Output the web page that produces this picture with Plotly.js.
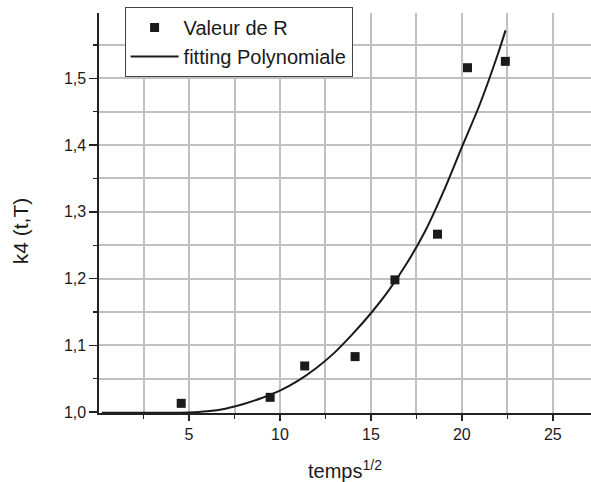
<!DOCTYPE html>
<html>
<head>
<meta charset="utf-8">
<script src="https://cdn.plot.ly/plotly-3.0.1.min.js"></script>
<style>
  html, body { margin: 0; padding: 0; background: #ffffff; }
  #chart { width: 591px; height: 482px; }
</style>
</head>
<body>
<div id="chart"></div>
<script>
// Measured points "Valeur de R" (x = temps^1/2, y = k4(t,T))
var pointsX = [4.57, 9.46, 11.36, 14.13, 16.32, 18.66, 20.31, 22.39];
var pointsY = [1.013, 1.022, 1.069, 1.083, 1.198, 1.2665, 1.516, 1.5255];

// Polynomial fit curve
var fitX = [0.2, 2, 4, 5, 6, 7, 8, 9, 10, 11, 12, 13, 14, 15, 16, 17, 18, 19, 20, 21, 22, 22.4];
var fitY = [0.999, 0.999, 0.999, 0.9993, 1.001, 1.005, 1.012, 1.021, 1.032, 1.047, 1.066, 1.089,
            1.117, 1.148, 1.183, 1.224, 1.272, 1.331, 1.397, 1.462, 1.538, 1.572];

var seriesNames = ['Valeur de R', 'fitting Polynomiale'];
var xTitle = 'temps<sup>1/2</sup>';
var yTitle = 'k4 (t,T)';

var FONT = '"Liberation Sans", Arial, Helvetica, sans-serif';
var GRID = '#c0c0c0';

var traces = [
  {
    x: pointsX, y: pointsY, name: seriesNames[0],
    type: 'scatter', mode: 'markers',
    marker: { symbol: 'square', size: 9, color: '#1a1a1a', line: { width: 0 } },
    hoverinfo: 'skip'
  },
  {
    x: fitX, y: fitY, name: seriesNames[1],
    type: 'scatter', mode: 'lines',
    line: { color: '#1a1a1a', width: 2, shape: 'spline', smoothing: 0.8 },
    hoverinfo: 'skip'
  }
];

var layout = {
  width: 591, height: 482,
  margin: { l: 99, r: 0, t: 13, b: 69, pad: 0 },
  paper_bgcolor: '#ffffff', plot_bgcolor: '#ffffff',
  separators: ', ',
  font: { family: FONT, color: '#1a1a1a', size: 16 },
  showlegend: true,
  legend: {
    x: 0.052, y: 1.015, xanchor: 'left', yanchor: 'top',
    bgcolor: '#ffffff', bordercolor: '#444444', borderwidth: 1,
    font: { family: FONT, size: 20, color: '#1a1a1a' },
    itemwidth: 48, tracegroupgap: 0
  },
  xaxis: {
    range: [0.05, 27.1], autorange: false,
    tickmode: 'linear', tick0: 0, dtick: 5,
    ticks: 'outside', ticklen: 6, tickwidth: 1.5, tickcolor: '#222',
    tickfont: { family: FONT, size: 16, color: '#1a1a1a' },
    showline: true, linecolor: '#222', linewidth: 2,
    showgrid: true, gridcolor: GRID, gridwidth: 2,
    zeroline: false,
    minor: { dtick: 2.5, tick0: 0, ticks: 'outside', ticklen: 4, tickwidth: 1.2, tickcolor: '#222',
             showgrid: true, gridcolor: GRID, gridwidth: 2 },
    title: { text: xTitle, font: { family: FONT, size: 20, color: '#1a1a1a' }, standoff: 22 },
    automargin: false
  },
  yaxis: {
    range: [0.9985, 1.598], autorange: false,
    tickmode: 'linear', tick0: 1.0, dtick: 0.1, tickformat: '.1f',
    ticks: 'outside', ticklen: 8, tickwidth: 1.5, tickcolor: '#222',
    tickfont: { family: FONT, size: 16, color: '#1a1a1a' },
    showline: true, linecolor: '#222', linewidth: 1.6,
    showgrid: true, gridcolor: GRID, gridwidth: 2,
    zeroline: false,
    minor: { dtick: 0.05, tick0: 1.0, ticks: 'outside', ticklen: 4, tickwidth: 1.2, tickcolor: '#222',
             showgrid: true, gridcolor: GRID, gridwidth: 2 },
    automargin: false
  },
  annotations: [
    {
      text: yTitle, textangle: -90, showarrow: false,
      xref: 'paper', yref: 'paper', x: -0.158, y: 0.455,
      xanchor: 'center', yanchor: 'middle',
      font: { family: FONT, size: 21, color: '#1a1a1a' }
    }
  ]
};

Plotly.newPlot('chart', traces, layout, { displayModeBar: false, staticPlot: true });
</script>
</body>
</html>
